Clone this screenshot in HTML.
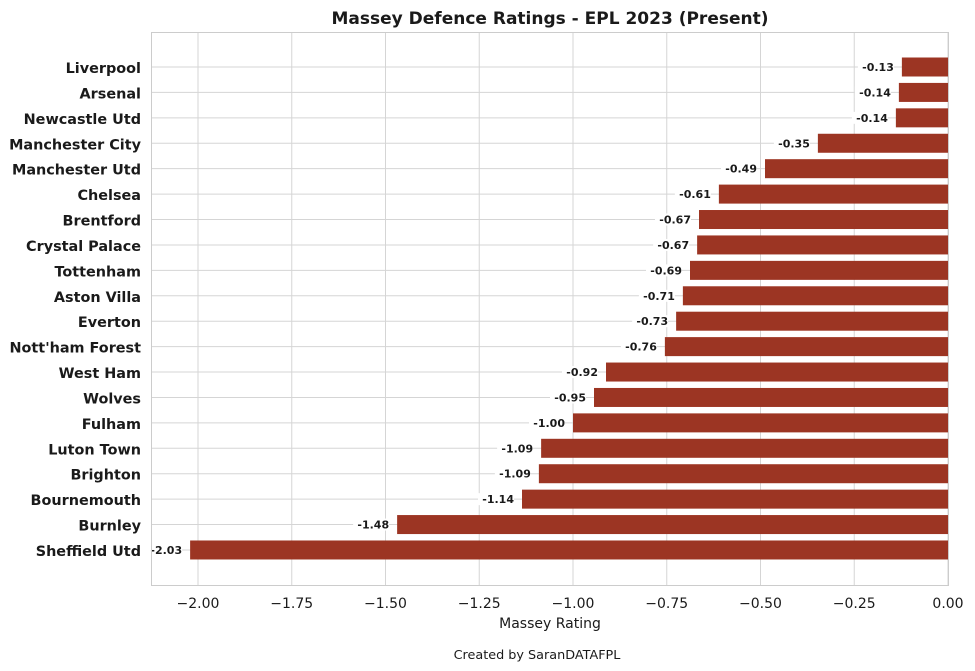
<!DOCTYPE html>
<html><head><meta charset="utf-8"><style>
html,body{margin:0;padding:0;background:#fff;width:975px;height:671px;overflow:hidden}
svg text{font-family:"DejaVu Sans","Liberation Sans",sans-serif;fill:#1a1a1a}
</style></head><body>
<svg id="s" width="975" height="671" xmlns="http://www.w3.org/2000/svg"></svg>
<script>
const d=[["Liverpool",-0.123,"-0.13"],["Arsenal",-0.131,"-0.14"],["Newcastle Utd",-0.139,"-0.14"],["Manchester City",-0.347,"-0.35"],["Manchester Utd",-0.488,"-0.49"],["Chelsea",-0.611,"-0.61"],["Brentford",-0.664,"-0.67"],["Crystal Palace",-0.669,"-0.67"],["Tottenham",-0.688,"-0.69"],["Aston Villa",-0.707,"-0.71"],["Everton",-0.725,"-0.73"],["Nott'ham Forest",-0.755,"-0.76"],["West Ham",-0.912,"-0.92"],["Wolves",-0.944,"-0.95"],["Fulham",-1.0,"-1.00"],["Luton Town",-1.085,"-1.09"],["Brighton",-1.091,"-1.09"],["Bournemouth",-1.136,"-1.14"],["Burnley",-1.469,"-1.48"],["Sheffield Utd",-2.021,"-2.03"]];
const X=v=>948+v*375;
let h='';
h+=`<text x="550" y="24" text-anchor="middle" font-size="17" font-weight="bold">Massey Defence Ratings - EPL 2023 (Present)</text>`;
for(let i=0;i<=8;i++){const v=-2+i*0.25,x=X(v);h+=`<line x1="${x}" y1="32" x2="${x}" y2="586" stroke="#d5d5d5" stroke-width="1"/>`;h+=`<text x="${x}" y="608" text-anchor="middle" font-size="14">${v==0?'0.00':'\u2212'+Math.abs(v).toFixed(2)}</text>`;}
d.forEach((r,i)=>{const y=67+i*25.42;h+=`<line x1="151" y1="${y}" x2="948" y2="${y}" stroke="#d5d5d5" stroke-width="1"/>`;});
d.forEach((r,i)=>{const y=67+i*25.42,x=X(r[1]);
h+=`<rect x="${x}" y="${y-9.5}" width="${948-x}" height="19" fill="#9c3523"/>`;
h+=`<rect x="${x-44}" y="${y-6}" width="36" height="12" fill="#fff"/>`;
h+=`<text x="${x-8}" y="${y+4}" text-anchor="end" font-size="11" font-weight="bold">${r[2]}</text>`;
h+=`<text x="141" y="${y+6}" text-anchor="end" font-size="14.4" font-weight="bold">${r[0].replace("'","&#39;")}</text>`;});
h+=`<rect x="151.5" y="32.5" width="797" height="553" fill="none" stroke="#cccccc" stroke-width="1"/>`;
h+=`<text x="550" y="628" text-anchor="middle" font-size="14">Massey Rating</text>`;
h+=`<text x="537" y="659" text-anchor="middle" font-size="12.8">Created by SaranDATAFPL</text>`;
document.getElementById('s').innerHTML=h;
</script>
</body></html>
